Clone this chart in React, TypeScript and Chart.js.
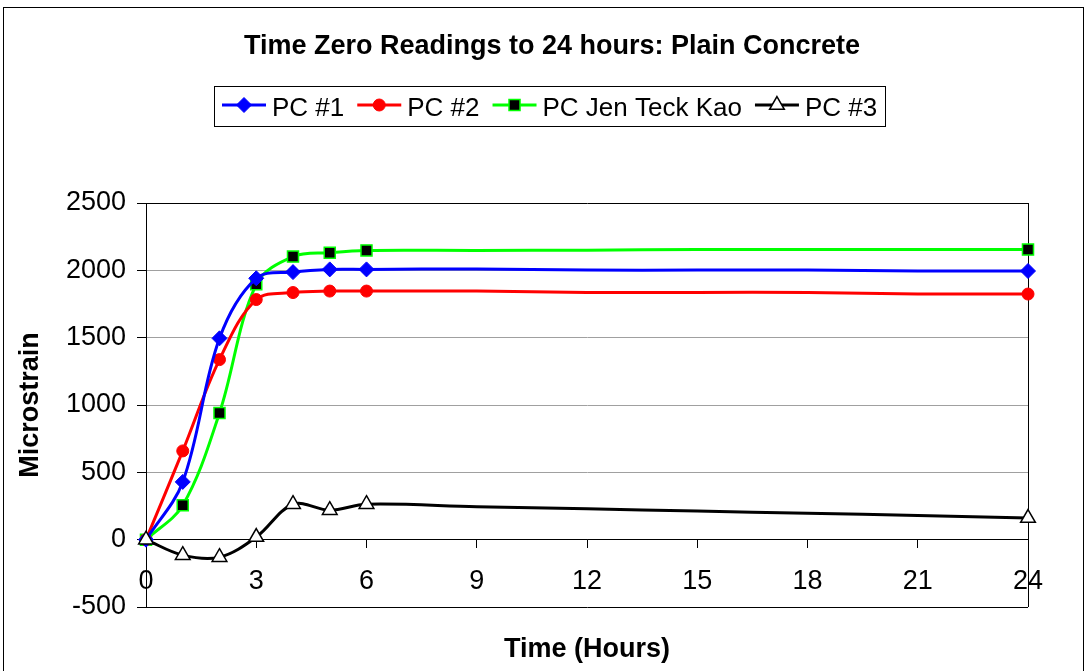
import React, { useEffect, useRef } from "react";
import { Chart, registerables } from "chart.js";
import { drawPoint } from "chart.js/helpers";

Chart.register(...registerables);

const FONT = 'Arial, "Liberation Sans", sans-serif';

// ---- data ----
const chartTitle = "Time Zero Readings to 24 hours: Plain Concrete";
const xTitle = "Time (Hours)";
const yTitle = "Microstrain";
const seriesNames = ["PC #1", "PC #2", "PC Jen Teck Kao", "PC #3"];
const hours = [0, 1, 2, 3, 4, 5, 6, 9, 12, 15, 18, 21, 24];
const markedHours = [0, 1, 2, 3, 4, 5, 6, 24];
const pc1 = [0, 429, 1495, 1941, 1987, 2007, 2007, 2010, 2002, 2002, 2002, 1995, 1995];
const pc2 = [0, 659, 1337, 1783, 1835, 1846, 1846, 1846, 1836, 1836, 1836, 1825, 1824];
const pcKao = [0, 256, 941, 1896, 2102, 2131, 2148, 2148, 2150, 2155, 2155, 2155, 2154];
const pc3 = [0, -115, -130, 19, 263, 219, 263, 245, 230, 212, 197, 180, 160];
const xMin = 0;
const xMax = 24;
const xStep = 3;
const yMin = -500;
const yMax = 2500;
const yStep = 500;

const decorPlugin = {
  id: "decor",
  afterDraw(chart: any) {
    const ctx = chart.ctx as CanvasRenderingContext2D;
    const ca = chart.chartArea;
    ctx.save();
    // outer frame
    ctx.strokeStyle = "#000";
    ctx.lineWidth = 1;
    ctx.strokeRect(3.5, 7.5, chart.width - 6, chart.height + 20);

    // title
    ctx.fillStyle = "#000";
    ctx.textAlign = "center";
    ctx.textBaseline = "alphabetic";
    ctx.font = `bold 27px ${FONT}`;
    ctx.fillText(chartTitle, 552, 54);

    // x axis title
    ctx.font = `bold 27px ${FONT}`;
    ctx.fillText(xTitle, (ca.left + ca.right) / 2, 657);

    // legend
    ctx.font = `26px ${FONT}`;
    const lineLen = 44;
    const gapText = 6;
    const gapItem = 13;
    const pad = 8;
    const datasets = chart.data.datasets;
    const widths = datasets.map((d: any) => ctx.measureText(d.label).width);
    let total = 0;
    widths.forEach((w: number, i: number) => {
      total += lineLen + gapText + w + (i < widths.length - 1 ? gapItem : 0);
    });
    const cx = 549.5;
    const boxL = Math.round(cx - total / 2 - pad);
    const boxW = Math.round(total + 2 * pad);
    ctx.strokeStyle = "#000";
    ctx.lineWidth = 1;
    ctx.strokeRect(boxL + 0.5, 86.5, boxW, 40);
    let x = boxL + pad;
    const ly = 105;
    datasets.forEach((d: any, i: number) => {
      ctx.strokeStyle = d.borderColor;
      ctx.lineWidth = 3;
      ctx.beginPath();
      ctx.moveTo(x, ly);
      ctx.lineTo(x + lineLen, ly);
      ctx.stroke();
      ctx.fillStyle = d.pointBackgroundColor;
      ctx.strokeStyle = d.pointBorderColor;
      ctx.lineWidth = d.pointBorderWidth;
      drawPoint(ctx, { pointStyle: d.pointStyle, radius: d.legendRadius, rotation: 0, borderWidth: d.pointBorderWidth }, x + lineLen / 2, ly);
      ctx.fillStyle = "#000";
      ctx.textAlign = "left";
      ctx.textBaseline = "alphabetic";
      ctx.fillText(d.label, x + lineLen + gapText, 116);
      x += lineLen + gapText + widths[i] + gapItem;
    });
    ctx.restore();
  },
};

function makeSeries(
  label: string,
  values: number[],
  color: string,
  fill: string,
  pBorder: string,
  style: string,
  r: number,
  pbw: number,
  order: number
) {
  return {
    label,
    data: hours.map((h, i) => ({ x: h, y: values[i] })),
    borderColor: color,
    backgroundColor: fill,
    pointBackgroundColor: fill,
    pointBorderColor: pBorder,
    pointBorderWidth: pbw,
    pointStyle: style,
    pointRadius: hours.map((h) => (markedHours.includes(h) ? r : 0)),
    legendRadius: r,
    borderWidth: 3,
    tension: 0.35,
    fill: false,
    clip: false as any,
    order,
  };
}

export default function App() {
  const ref = useRef<HTMLCanvasElement | null>(null);
  useEffect(() => {
    if (!ref.current) return;
    Chart.defaults.font.family = FONT;
    const chart = new Chart(ref.current, {
      type: "line",
      data: {
        datasets: [
          makeSeries(seriesNames[0], pc1, "#0000FF", "#0000FF", "#0000FF", "rectRot", 7.5, 1, 1),
          makeSeries(seriesNames[1], pc2, "#FF0000", "#FF0000", "#FF0000", "circle", 6, 1, 2),
          makeSeries(seriesNames[2], pcKao, "#00FF00", "#000000", "#00FF00", "rect", 7.8, 1.5, 3),
          makeSeries(seriesNames[3], pc3, "#000000", "#FFFFFF", "#000000", "triangle", 8.5, 1.5, 0),
        ] as any,
      },
      options: {
        animation: false,
        responsive: false,
        devicePixelRatio: 1,
        layout: { padding: { top: 203, right: 58, bottom: 64, left: 0 } },
        plugins: {
          legend: { display: false },
          title: { display: false },
          tooltip: { enabled: false },
        },
        scales: {
          x: {
            type: "linear",
            position: { y: 0 } as any,
            min: xMin,
            max: xMax,
            ticks: {
              stepSize: xStep,
              color: "#000",
              font: { size: 27, family: FONT },
              padding: 18,
              maxRotation: 0,
              callback: (v: any) => String(v),
            },
            grid: {
              drawOnChartArea: true,
              color: (c: any) => (c.tick && c.tick.value === xMax ? "#000" : "rgba(0,0,0,0)"),
              tickColor: "#000",
              tickLength: 8,
              lineWidth: 1,
            },
            border: { display: true, color: "#000", width: 1 },
          },
          y: {
            type: "linear",
            position: "left",
            min: yMin,
            max: yMax,
            afterFit: (s: any) => {
              s.width = 146;
            },
            ticks: {
              stepSize: yStep,
              color: "#000",
              font: { size: 27, family: FONT },
              padding: 11,
              callback: (v: any) => String(v),
            },
            grid: {
              color: (c: any) => {
                const v = c.tick ? c.tick.value : null;
                if (v === yMin || v === yMax || v === 0) return "#000";
                return "#a0a0a0";
              },
              tickColor: "#000",
              tickLength: 9,
              lineWidth: 1,
            },
            border: { display: true, color: "#000", width: 1 },
            title: {
              display: true,
              text: yTitle,
              color: "#000",
              font: { size: 27, weight: "bold", family: FONT },
              padding: { top: 14, bottom: 0 },
            },
          },
        },
      },
      plugins: [decorPlugin],
    });
    return () => chart.destroy();
  }, []);
  return (
    <div style={{ position: "fixed", left: 0, top: 0, width: 1086, height: 671, background: "#fff" }}>
      <canvas ref={ref} width={1086} height={671} style={{ display: "block" }} />
    </div>
  );
}
